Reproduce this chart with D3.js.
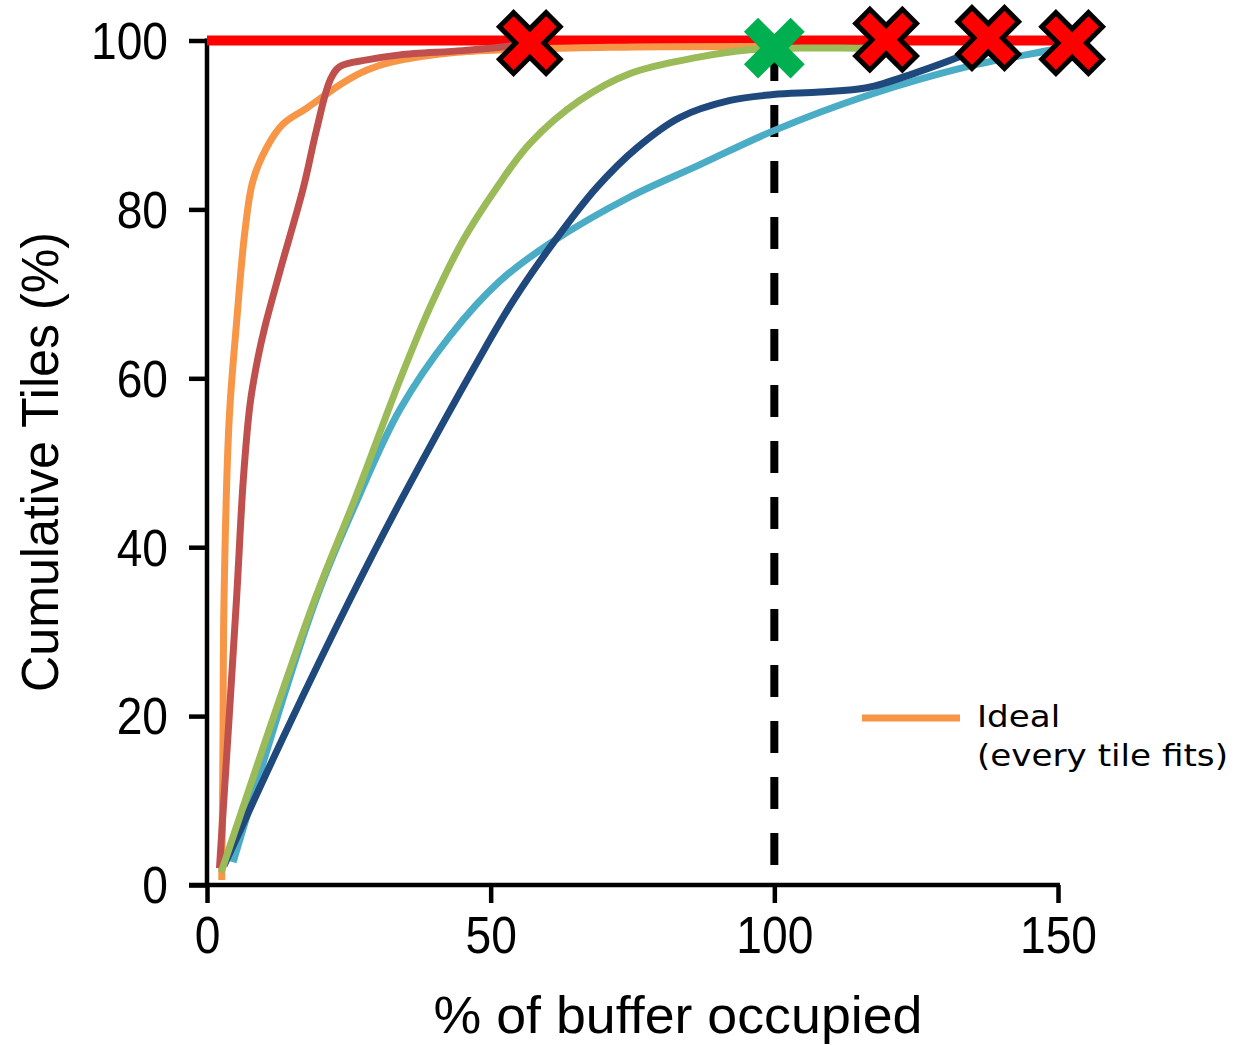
<!DOCTYPE html>
<html>
<head>
<meta charset="utf-8">
<script src="https://cdn.jsdelivr.net/npm/d3@7"></script>
<style>
  html, body { margin: 0; padding: 0; background: #fff; }
  svg { display: block; }
</style>
</head>
<body>
<svg id="chart" width="1237" height="1045"></svg>
<script>
// ---------- data ----------
const xTicks = [0, 50, 100, 150];
const yTicks = [0, 20, 40, 60, 80, 100];
const xLabel = "% of buffer occupied";
const yLabel = "Cumulative Tiles (%)";
const legendLines = ["Ideal", "(every tile fits)"];

// Ideal (orange)
const idealX = [2.6, 2.8, 3.0, 3.9, 5.2, 6.7, 8.1, 10.5, 13.4, 17.6, 24, 28.2, 32.3, 44, 71, 100];
const idealY = [0.6, 15, 33.8, 55, 66.5, 77.5, 83.4, 87.3, 90.1, 92.0, 95.0, 96.5, 97.4, 98.6, 99.2, 99.3];

// brown-red series
const redX = [2.2, 5.2, 6.4, 7.6, 9.0, 10.2, 12.9, 17, 19.3, 21.7, 23.4, 28.2, 34, 45, 52.8, 56.9];
const redY = [2.0, 33.8, 48, 57, 62.5, 66.1, 72.8, 82.6, 89.4, 95.3, 96.9, 97.7, 98.3, 98.8, 99.3, 99.7];

// green series
const greenX = [2.5, 19, 26, 34, 39.3, 45.1, 51.1, 56.9, 65.7, 74.6, 86.4, 95.7, 105, 117, 119.7];
const greenY = [1.5, 33.8, 45.6, 59.8, 68.4, 76.3, 82.6, 87.8, 92.9, 96.1, 98.0, 98.9, 99.1, 99.1, 99.2];

// light blue series
const lightX = [4.6, 19.2, 26.5, 34, 42.8, 51.6, 60.5, 74.6, 86.9, 99.8, 116, 134, 149, 151.5];
const lightY = [2.7, 33.8, 45.6, 56.3, 65.0, 71.5, 76, 81.5, 85.3, 89.3, 93.4, 96.9, 98.9, 99.3];

// dark blue series
const darkX = [3, 14, 25.2, 34, 48.1, 54, 61, 68.7, 75.8, 83.4, 92.2, 99.8, 108, 116.3, 125, 132.7, 137.7];
const darkY = [2.3, 18.3, 33.8, 45.3, 62.5, 69.2, 76, 82.6, 87.3, 90.9, 92.9, 93.6, 93.9, 94.4, 96.2, 98.1, 99.6];

// ideal 100% line
const fullLineX = [0, 152.5];
const fullLineY = [100, 100];

// vertical dashed line at 100%
const dashX = [100, 100];
const dashY = [99, 0];

// markers
const failX = [56.9, 119.7, 137.7, 152.5];
const failY = [99.7, 100.1, 100.3, 99.7];
const okX = [100];
const okY = [99.1];

// ---------- setup ----------
const svg = d3.select("#chart");
const x = d3.scaleLinear().domain([0, 150]).range([207, 1058]);
const y = d3.scaleLinear().domain([0, 100]).range([885, 40.5]);

const zip = (xs, ys) => xs.map((v, i) => [v, ys[i]]);
const line = d3.line().x(d => x(d[0])).y(d => y(d[1])).curve(d3.curveCatmullRom.alpha(0.5));
const straight = d3.line().x(d => x(d[0])).y(d => y(d[1]));

// ---------- axes ----------
const axisFont = "'Liberation Sans', Arial, sans-serif";

const xAxis = svg.append("g")
  .attr("transform", `translate(0,${y(0)})`)
  .call(d3.axisBottom(x).tickValues(xTicks).tickSize(18).tickPadding(14).tickFormat(d3.format("d")));
const yAxis = svg.append("g")
  .attr("transform", `translate(${x(0)},0)`)
  .call(d3.axisLeft(y).tickValues(yTicks).tickSize(18).tickPadding(21).tickFormat(d3.format("d")));

[xAxis, yAxis].forEach(g => {
  g.select(".domain").attr("stroke", "#000").attr("stroke-width", 4.5);
  g.selectAll(".tick line").attr("stroke", "#000").attr("stroke-width", 4.5);
  g.selectAll(".tick text")
    .attr("fill", "#000")
    .style("font-family", axisFont)
    .style("font-size", "51px");
});
yAxis.select(".domain").attr("d", `M0,${y(100) - 2}V${y(0) + 2}`);
xAxis.select(".domain").attr("d", `M${x(0) - 18},0H${x(150) + 2}`);
xAxis.selectAll(".tick text").attr("dy", "0.71em");
yAxis.selectAll(".tick text").attr("dy", "0.35em");
svg.selectAll(".tick text").each(function() {
  const w = this.getComputedTextLength();
  d3.select(this).attr("textLength", w * 0.905).attr("lengthAdjust", "spacingAndGlyphs");
});

// axis titles
svg.append("text")
  .attr("x", 678).attr("y", 1033)
  .attr("text-anchor", "middle")
  .style("font-family", axisFont).style("font-size", "52px")
  .attr("textLength", 489).attr("lengthAdjust", "spacingAndGlyphs")
  .text(xLabel);
svg.append("text")
  .attr("transform", "translate(58,462) rotate(-90)")
  .attr("text-anchor", "middle")
  .style("font-family", axisFont).style("font-size", "52px")
  .attr("textLength", 460).attr("lengthAdjust", "spacingAndGlyphs")
  .text(yLabel);

// ---------- reference lines ----------
svg.append("path")
  .attr("d", straight(zip(fullLineX, fullLineY)))
  .attr("fill", "none").attr("stroke", "#FF0000").attr("stroke-width", 10);

svg.append("path")
  .attr("d", straight(zip(dashX, dashY)))
  .attr("fill", "none").attr("stroke", "#000").attr("stroke-width", 8)
  .attr("stroke-dasharray", "32,24");

// ---------- series ----------
const series = [
  { xs: idealX, ys: idealY, color: "#F79646" },
  { xs: redX,   ys: redY,   color: "#C0504D" },
  { xs: lightX, ys: lightY, color: "#4BACC6" },
  { xs: darkX,  ys: darkY,  color: "#1F497D" },
  { xs: greenX, ys: greenY, color: "#9BBB59" }
];
series.forEach(s => {
  svg.append("path")
    .attr("d", line(zip(s.xs, s.ys)))
    .attr("fill", "none")
    .attr("stroke", s.color)
    .attr("stroke-width", 7)
    .attr("stroke-linejoin", "round");
});

// ---------- markers ----------
function crossPath(a, h) {
  const p = [
    [h, -a], [h, -h], [a, -h], [a, h], [h, h], [h, a],
    [-h, a], [-h, h], [-a, h], [-a, -h], [-h, -h], [-h, -a]
  ];
  return "M" + p.map(q => q.join(",")).join("L") + "Z";
}
svg.selectAll(".fail").data(zip(failX, failY)).enter().append("path")
  .attr("class", "fail")
  .attr("d", crossPath(33, 10))
  .attr("transform", d => `translate(${x(d[0])},${y(d[1])}) rotate(45)`)
  .attr("fill", "#FF0000").attr("stroke", "#000").attr("stroke-width", 5)
  .attr("stroke-linejoin", "miter");

svg.selectAll(".ok").data(zip(okX, okY)).enter().append("path")
  .attr("class", "ok")
  .attr("d", crossPath(33, 10))
  .attr("transform", d => `translate(${x(d[0])},${y(d[1])}) rotate(45)`)
  .attr("fill", "#00B050");

// ---------- legend ----------
svg.append("line")
  .attr("x1", 862).attr("x2", 960).attr("y1", 718).attr("y2", 718)
  .attr("stroke", "#F79646").attr("stroke-width", 7);
const legFont = "'DejaVu Sans', 'Noto Sans', sans-serif";
const lt = svg.append("text")
  .style("font-family", legFont).style("font-size", "30px").attr("fill", "#000");
lt.append("tspan").attr("x", 977).attr("y", 727).text(legendLines[0]);
lt.append("tspan").attr("x", 977).attr("y", 766).text(legendLines[1]);
const t2 = lt.selectAll("tspan").nodes()[1];
const w2 = t2.getComputedTextLength();
const ratio = 251 / w2;
lt.selectAll("tspan").each(function() {
  const w = this.getComputedTextLength();
  d3.select(this).attr("textLength", w * ratio).attr("lengthAdjust", "spacingAndGlyphs");
});
</script>
</body>
</html>
